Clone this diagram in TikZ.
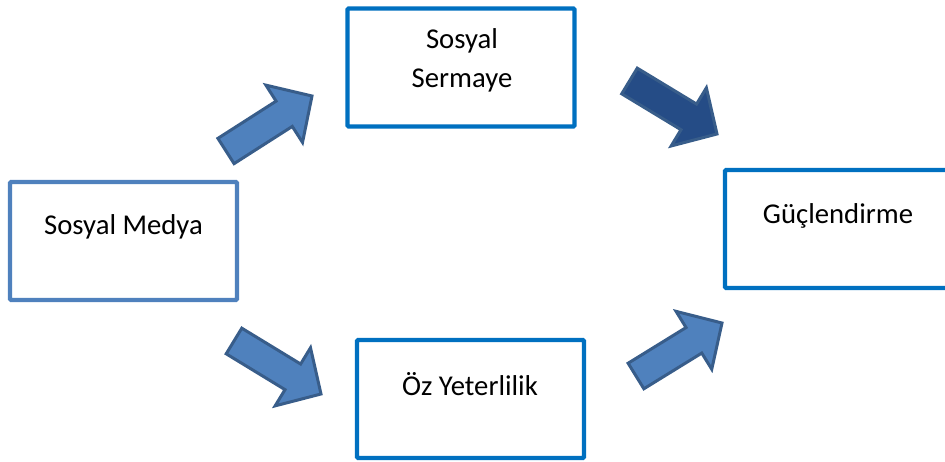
\documentclass[tikz,border=0pt]{standalone}
\usepackage{fontspec}
\setmainfont{Carlito}
\usetikzlibrary{calc}

\definecolor{medblue}{HTML}{4F81BD}
\definecolor{boxblue}{HTML}{0070C0}
\definecolor{arrowedge}{HTML}{385D8A}
\definecolor{navyfill}{HTML}{254C86}

\tikzset{
  box/.style={draw, line width=4.2pt, rounded corners=1pt, fill=white,
    minimum width=227pt, minimum height=118pt, inner sep=0pt, anchor=center},
  lbl/.style={font=\fontsize{28.7}{38}\selectfont, anchor=base, inner sep=0pt},
  blockarrow/.style={fill=medblue, draw=arrowedge, line width=3pt, line join=miter},
  darkarrow/.style={blockarrow, fill=navyfill}
}

% block arrow from #1 (tail centre) to #2 (tip): half shaft 15pt,
% half head 34pt, head length 33pt
\newcommand\fatarrow[3]{%
  \coordinate (neck) at ($(#2)!33pt!(#1)$);
  \draw[#3] ($(#1)!15pt!90:(#2)$) -- ($(neck)!15pt!90:(#2)$)
    -- ($(neck)!34pt!90:(#2)$) -- (#2)
    -- ($(neck)!34pt!-90:(#2)$) -- ($(neck)!15pt!-90:(#2)$)
    -- ($(#1)!15pt!-90:(#2)$) -- cycle;
}

\begin{document}
\begin{tikzpicture}[x=1pt, y=-1pt]
  \useasboundingbox (0,0) rectangle (945,462);
  \clip (0,0) rectangle (945,462);

  % boxes
  \node[box, draw=medblue] (medya)   at (123.5,241) {};
  \node[box, draw=boxblue] (sermaye) at (461,67.5) {};
  \node[box, draw=boxblue] (guc)     at (838.5,229) {};
  \node[box, draw=boxblue] (oz)      at (470.5,399) {};

  % box texts
  \node[lbl] (tmedya) at (123.5,235) {Sosyal Medya};
  \node[lbl] (tsos)   at (462,49) {Sosyal};
  \node[lbl] (tserm)  at (462,88) {Sermaye};
  \node[lbl] (tguc)   at (838,224) {Güçlendirme};
  \node[lbl] (toz)    at (470,395) {Öz Yeterlilik};

  % block arrows between the boxes
  \coordinate (a1t) at (226,151); \coordinate (a1h) at (312,96);
  \coordinate (a2t) at (629.5,81); \coordinate (a2h) at (717,134);
  \coordinate (a3t) at (234,341); \coordinate (a3h) at (321,394);
  \coordinate (a4t) at (636,376); \coordinate (a4h) at (722,323);
  \fatarrow{a1t}{a1h}{blockarrow}
  \fatarrow{a2t}{a2h}{darkarrow}
  \fatarrow{a3t}{a3h}{blockarrow}
  \fatarrow{a4t}{a4h}{blockarrow}
\end{tikzpicture}
\end{document}
